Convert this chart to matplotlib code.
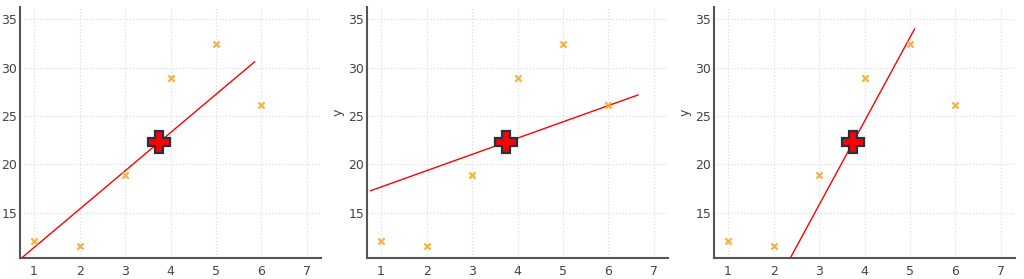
import numpy as np
import matplotlib.pyplot as plt

# data points
xs = [1, 2, 3, 4, 5, 6]
ys = [12.1, 11.6, 18.9, 28.9, 32.4, 26.1]

# pivot point (red cross)
px, py = 3.75, 22.3

# candidate lines through the pivot: slope and drawn x range
slopes = [3.95, 1.68, 8.65]
x_from = [0.69, 0.77, 2.35]
x_to = [5.85, 6.65, 5.10]

fig = plt.figure(figsize=(10.24, 2.79), dpi=100)
lefts = [20 / 1024, 367 / 1024, 714 / 1024]
width = 301 / 1024
bottom = 21 / 279
height = 251 / 279

for i in range(3):
    ax = fig.add_axes([lefts[i], bottom, width, height])
    ax.grid(True, color='#dddddd', linestyle=':', linewidth=0.9)
    ax.set_axisbelow(True)
    lx = np.array([x_from[i], x_to[i]])
    ax.plot(lx, py + slopes[i] * (lx - px), color='red', linewidth=1.0, zorder=2)
    ax.scatter(xs, ys, marker='x', s=20, color='#f5a623', alpha=0.85,
               linewidths=1.6, zorder=3)
    ax.plot(px, py, marker='P', markersize=16, color='red',
            markeredgecolor='#223344', markeredgewidth=1.6, zorder=4)
    ax.set_xlim(0.69, 7.31)
    ax.set_ylim(10.35, 36.25)
    ax.set_xticks([1, 2, 3, 4, 5, 6, 7])
    ax.set_yticks([15, 20, 25, 30, 35])
    for s in ['top', 'right']:
        ax.spines[s].set_visible(False)
    for s in ['left', 'bottom']:
        ax.spines[s].set_color('#555555')
        ax.spines[s].set_linewidth(1.5)
    ax.tick_params(length=0, labelsize=9, labelcolor='#444444')
    ax.tick_params(axis='x', pad=5)
    ax.tick_params(axis='y', pad=2)
    ax.set_xlabel('x', fontsize=9, color='#444444', labelpad=1)
    ax.set_ylabel('y', fontsize=9, color='#444444')
    ax.yaxis.set_label_coords(-0.075, 0.58)

fig.savefig('out.png', dpi=100)
